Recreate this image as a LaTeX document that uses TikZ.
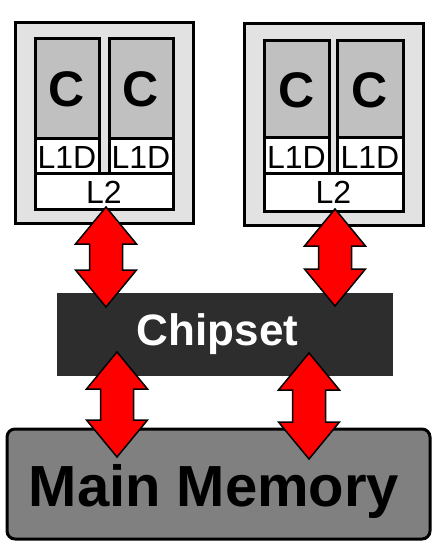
\documentclass[tikz,border=0pt]{standalone}
\usepackage{fontspec}
\setmainfont{Liberation Sans}
\definecolor{pkgfill}{HTML}{E2E2E2}
\definecolor{corefill}{HTML}{C0C0C0}
\definecolor{chipfill}{HTML}{2D2D2D}
\definecolor{memfill}{HTML}{808080}
\definecolor{arrred}{HTML}{FF0000}
\newcommand{\dblarrowshape}[3]{%
  \draw[arrshape] ({#1-16.5},{#2+37}) -- ({#1-30.5},{#2+37}) -- (#1,#2) -- ({#1+30.5},{#2+37}) -- ({#1+16.5},{#2+37})
   -- ({#1+16.5},{#3-37}) -- ({#1+30.5},{#3-37}) -- (#1,#3) -- ({#1-30.5},{#3-37}) -- ({#1-16.5},{#3-37}) -- cycle;}
\begin{document}
\begin{tikzpicture}[x=1pt,y=-1pt,
  pkg/.style={draw=black,line width=3pt,fill=pkgfill,minimum width=#1,inner sep=0pt},
  core/.style={draw=black,line width=3pt,fill=corefill,inner sep=0pt},
  cache/.style={draw=black,line width=3pt,fill=white,inner sep=0pt},
  arrshape/.style={fill=arrred,draw=black,line width=1.5pt,line join=miter},
  ctext/.style={font=\fontsize{50}{50}\selectfont\bfseries,inner sep=0pt,anchor=base},
  ltext/.style={font=\fontsize{32}{32}\selectfont,inner sep=0pt,anchor=base}]
\useasboundingbox (0,0) rectangle (439,549);
\fill[white] (0,0) rectangle (439,549);
% left package
\node[pkg=178pt,minimum height=201pt] (pkgL) at (104,122.5) {};
\node[core,minimum width=64pt,minimum height=100pt] (c1) at (67,88) {};
\node[core,minimum width=64pt,minimum height=100pt] (c2) at (141,88) {};
\node[cache,minimum width=64pt,minimum height=35pt] (l1a) at (67,155.5) {};
\node[cache,minimum width=64pt,minimum height=35pt] (l1b) at (141,155.5) {};
\node[cache,minimum width=138pt,minimum height=36pt] (l2L) at (104,191) {};
\node[ctext] (tc1) at (67,106) {C};
\node[ctext] (tc2) at (141,106) {C};
\node[ltext] (tl1a) at (67,168.5) {L1D};
\node[ltext] (tl1b) at (141,168.5) {L1D};
\node[ltext] (tl2L) at (104,203) {L2};
% right package
\node[pkg=179pt,minimum height=202pt] (pkgR) at (333.5,124) {};
\node[core,minimum width=65pt,minimum height=97pt] (c3) at (296.5,88.5) {};
\node[core,minimum width=66pt,minimum height=97pt] (c4) at (370,88.5) {};
\node[cache,minimum width=65pt,minimum height=36pt] (l1c) at (296.5,155) {};
\node[cache,minimum width=66pt,minimum height=36pt] (l1d) at (370,155) {};
\node[cache,minimum width=139pt,minimum height=38pt] (l2R) at (333.5,192) {};
\node[ctext] (tc3) at (296.5,107) {C};
\node[ctext] (tc4) at (370,107) {C};
\node[ltext] (tl1c) at (296.5,168.5) {L1D};
\node[ltext] (tl1d) at (370,168.5) {L1D};
\node[ltext] (tl2R) at (333.5,203) {L2};
% chipset
\node[fill=chipfill,minimum width=336pt,minimum height=83pt,inner sep=0pt] (chip) at (225,334.5) {};
\node[font=\fontsize{44}{44}\selectfont\bfseries,text=white,inner sep=0pt,anchor=base] (chipt) at (217.5,345) {Chipset};
% main memory
\node[draw=black,line width=3pt,fill=memfill,rounded corners=8pt,minimum width=423pt,minimum height=110pt,inner sep=0pt] (mem) at (218.5,484) {};
\node[font=\fontsize{58}{58}\selectfont\bfseries,inner sep=0pt,anchor=base] (memt) at (214,506) {Main Memory};
% arrows
\dblarrowshape{106}{207}{307}
\dblarrowshape{335}{209}{306}
\dblarrowshape{117}{352}{457}
\dblarrowshape{309}{353}{459}
\end{tikzpicture}
\end{document}
